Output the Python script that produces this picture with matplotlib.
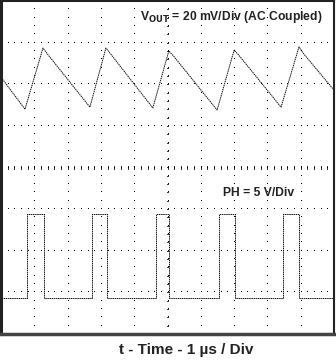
import matplotlib
matplotlib.use("Agg")
import matplotlib.pyplot as plt
import numpy as np

plt.rcParams['font.family'] = ['Liberation Sans', 'DejaVu Sans']

# Vout trace (x in divisions of 1 us, y in divisions, 0 = screen center)
vout_t = [0.0, 0.72, 1.26, 1.40, 2.67, 3.15, 3.30, 4.56, 5.04, 5.18, 6.49, 7.00, 7.14, 8.41, 8.95, 9.08, 10.0]
vout_v = [2.17, 1.40, 2.87, 2.72, 1.45, 2.87, 2.72, 1.43, 2.80, 2.68, 1.38, 2.82, 2.70, 1.45, 2.90, 2.74, 1.86]

# PH trace: rising/falling edge times and levels
ph_rise = [0.78, 2.73, 4.65, 6.55, 8.47]
ph_fall = [1.29, 3.18, 5.05, 7.03, 8.95]
ph_low = -3.13
ph_high = -1.12

fig = plt.figure(figsize=(3.36, 3.64), dpi=100)
ax = fig.add_axes([1/336, 30/364, 333/336, 333/364])
ax.set_xlim(0, 10)
ax.set_ylim(-4, 4)
ax.set_xticks([])
ax.set_yticks([])
for s in ax.spines.values():
    s.set_color('#222222')
    s.set_linewidth(1.5)
ax.spines['bottom'].set_linewidth(2.5)
ax.spines['bottom'].set_color('#444444')
ax.spines['left'].set_linewidth(2.2)

# graticule dots
minor_x = np.arange(0, 10.001, 0.2)
minor_y = np.arange(-4, 4.001, 0.2)
for gx in range(1, 10):
    ax.plot(np.full_like(minor_y, gx), minor_y, ',', color='black')
for gy in range(-3, 4):
    ax.plot(minor_x, np.full_like(minor_x, gy), ',', color='black')
# center cross ticks
for mx in minor_x:
    ax.plot([mx, mx], [-0.04, 0.04], color='black', lw=0.6)
for my in minor_y:
    ax.plot([4.97, 5.03], [my, my], color='black', lw=0.6)

# Vout
ax.plot(vout_t, vout_v, color='#111111', lw=0.7, linestyle=(0, (1.5, 0.7)))

# PH
pt = [0.0]
pv = [ph_low]
for r, f in zip(ph_rise, ph_fall):
    pt += [r, r, f, f]
    pv += [ph_low, ph_high, ph_high, ph_low]
pt.append(10.0)
pv.append(ph_low)
ax.plot(pt, pv, color='#111111', lw=0.7, linestyle=(0, (1.5, 0.7)))

ax.text(9.66, 3.62, r'V$_{\mathbf{OUT}}$ = 20 mV/Div (AC Coupled)', ha='right', va='center',
        fontsize=8.7, fontweight='bold', color='#222222')
ax.text(7.72, -0.62, 'PH = 5 V/Div', ha='center', va='center',
        fontsize=8.7, fontweight='bold', color='#222222')
fig.text(186/336, 1 - 350/364, 't - Time - 1 µs / Div', ha='center', va='center',
         fontsize=11, fontweight='bold', color='#222222')

fig.savefig('out.png', dpi=100)
